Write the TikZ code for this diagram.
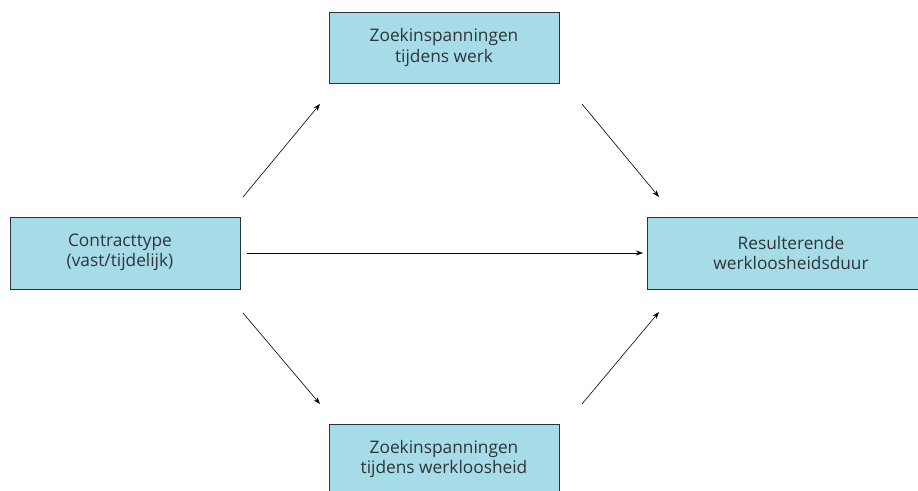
\documentclass[tikz,border=0pt]{standalone}
\usepackage{fontspec}
\setmainfont{Open Sans}
\usetikzlibrary{arrows.meta}
\definecolor{boxfill}{HTML}{A6DCE7}
\definecolor{boxline}{HTML}{2B3338}
\definecolor{txt}{HTML}{2E3438}
\begin{document}
\begin{tikzpicture}[x=1pt,y=1pt,
  lbl/.style={align=center,text=txt,font=\fontsize{17.3}{20.5}\selectfont,inner sep=0pt},
  box/.style={draw=boxline,line width=0.8pt,fill=boxfill,inner sep=0pt},
  arr/.style={draw=black,line width=0.6pt,-{Stealth[length=7pt,width=5pt]}}]
\useasboundingbox (0,0) rectangle (918,490);
\begin{scope}
\clip (0,0) rectangle (918,490);
\node[box,minimum width=230pt,minimum height=72pt] (ct) at (125,237) {};
\node[lbl] (ctt) at (120,237.5) {Contracttype\\(vast/tijdelijk)};
\node[box,lbl,minimum width=288pt,minimum height=72pt] (rw) at (791,237) {Resulterende\\werkloosheidsduur};
\node[box,lbl,minimum width=230pt,minimum height=71pt] (zw) at (444,442.5) {Zoekinspanningen\\tijdens werk};
\node[box,minimum width=230pt,minimum height=71pt,anchor=north] (zl) at (444,66) {};
\node[lbl] (zlt) at (444,31) {Zoekinspanningen\\tijdens werkloosheid};
\end{scope}
\coordinate (a1) at (247,237);
\coordinate (a2) at (643,237);
\draw[arr] (a1) -- (a2);
\coordinate (b1) at (243,293);
\coordinate (b2) at (320,386);
\draw[arr] (b1) -- (b2);
\coordinate (c1) at (582,386);
\coordinate (c2) at (659,293);
\draw[arr] (c1) -- (c2);
\coordinate (d1) at (243,177);
\coordinate (d2) at (320,86);
\draw[arr] (d1) -- (d2);
\coordinate (e1) at (582,86);
\coordinate (e2) at (659,178);
\draw[arr] (e1) -- (e2);
\end{tikzpicture}
\end{document}
